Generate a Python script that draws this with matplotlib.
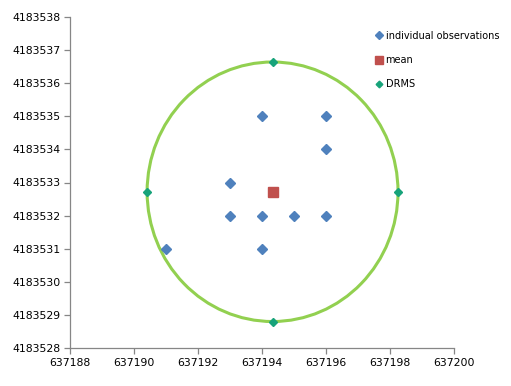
import numpy as np
import matplotlib
matplotlib.use('Agg')
import matplotlib.pyplot as plt
from matplotlib.patches import Circle

#=============== data ==================================================
obs_x = [637194, 637196, 637196, 637193, 637193, 637194, 637195, 637196, 637191, 637194]
obs_y = [4183535, 4183535, 4183534, 4183533, 4183532, 4183532, 4183532, 4183532, 4183531, 4183531]

mean_x = [637194.33]
mean_y = [4183532.72]

drms_x = [637194.33, 637198.25, 637194.33, 637190.41]
drms_y = [4183536.64, 4183532.72, 4183528.80, 4183532.72]
drms_radius = 3.92

x_ticks = [637188, 637190, 637192, 637194, 637196, 637198, 637200]
y_ticks = [4183528, 4183529, 4183530, 4183531, 4183532, 4183533,
	4183534, 4183535, 4183536, 4183537, 4183538]
#=======================================================================

blue = "#4F81BD"
red = "#C0504D"
teal = "#17A37A"
lime = "#92D050"
grey = "#868686"

fig = plt.figure(figsize=(5.11, 3.86), dpi=100)
ax = fig.add_axes([70/511., 38/386., 384/511., 331/386.])

#------ circle through the DRMS points ------
ring = Circle((mean_x[0], mean_y[0]), drms_radius, fill=False,
	edgecolor=lime, linewidth=2.2, zorder=2)
ax.add_patch(ring)

ax.plot(obs_x, obs_y, linestyle="none", marker="D", markersize=5.3,
	color=blue, label="individual observations", zorder=3)
ax.plot(mean_x, mean_y, linestyle="none", marker="s", markersize=7,
	color=red, label="mean", zorder=3)
ax.plot(drms_x, drms_y, linestyle="none", marker="D", markersize=4,
	color=teal, label="DRMS", zorder=4)

ax.set_xlim(x_ticks[0], x_ticks[-1])
ax.set_ylim(y_ticks[0], y_ticks[-1])
ax.set_xticks(x_ticks)
ax.set_yticks(y_ticks)
ax.set_xticklabels([str(v) for v in x_ticks])
ax.set_yticklabels([str(v) for v in y_ticks])

for side in ["top", "right"]:
	ax.spines[side].set_visible(False)
for side in ["left", "bottom"]:
	ax.spines[side].set_color(grey)
	ax.spines[side].set_linewidth(0.9)
ax.tick_params(direction="out", length=4, width=0.9, color=grey,
	labelsize=7.8, labelcolor="black", pad=3)

leg = ax.legend(loc="upper left", bbox_to_anchor=(370/511., 1 - 26/386.),
	bbox_transform=fig.transFigure, frameon=False, fontsize=7,
	handlelength=0.8, handletextpad=0.3, labelspacing=1.45,
	borderpad=0, markerscale=0.85)

fig.savefig("out.png", dpi=100)
